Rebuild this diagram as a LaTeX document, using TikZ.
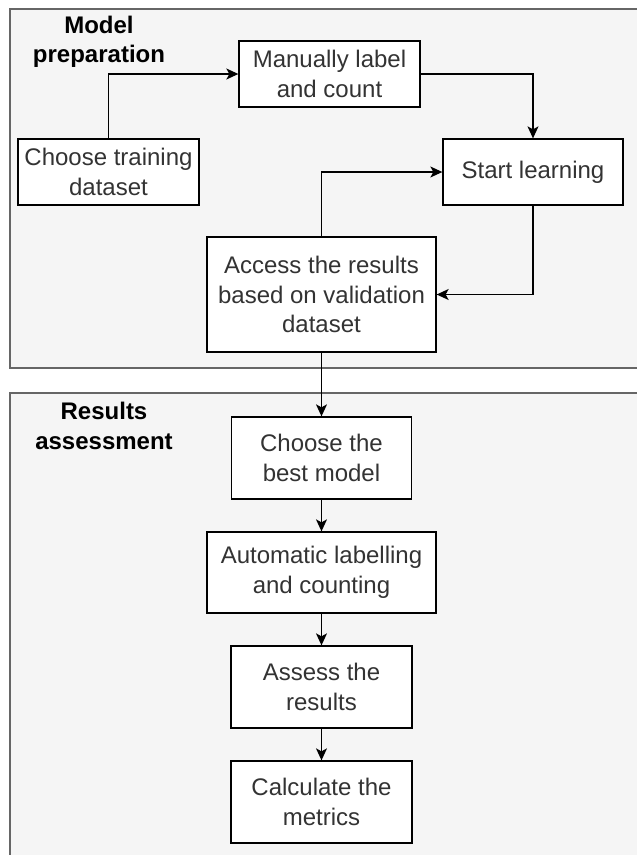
\documentclass[tikz,border=0pt]{standalone}
\usepackage{fontspec}
\setmainfont{Liberation Sans}
\usetikzlibrary{arrows.meta}
\definecolor{panelfill}{HTML}{F5F5F5}
\definecolor{panelline}{HTML}{666666}
\definecolor{txt}{HTML}{333333}
\begin{document}
\begin{tikzpicture}[x=1pt,y=-1pt,
  panel/.style={draw=panelline,fill=panelfill,line width=1.3pt},
  stepbox/.style={draw=black,fill=white,line width=1.3pt,align=center,
    text=txt,font=\fontsize{24}{29.5}\selectfont,inner sep=0pt},
  paneltitle/.style={align=center,font=\fontsize{24}{29.5}\selectfont\bfseries,text=black},
  conn/.style={draw=black,line width=1.3pt,-{Stealth[length=12pt,width=11pt,inset=3pt]}}]
\useasboundingbox (0,0) rectangle (637,855);
\fill[white] (0,0) rectangle (637,855);
% panels
\path[panel] (10,9) rectangle (660,368);
\path[panel] (10,393) rectangle (660,880);
\node[paneltitle] (t1) at (99,42) {Model\\preparation};
\node[paneltitle] (t2) at (104,426) {Results\\assessment};
% boxes
\node[stepbox,minimum width=181pt,minimum height=66pt] (manual) at (329.5,74) {Manually label\\and count};
\node[stepbox,minimum width=181pt,minimum height=66pt] (train) at (108.5,172) {Choose training\\dataset};
\node[stepbox,minimum width=180pt,minimum height=66pt] (start) at (533,172) {Start learning};
\node[stepbox,minimum width=229pt,minimum height=115pt] (access) at (321.5,294.5) {Access the results\\based on validation\\dataset};
\node[stepbox,minimum width=180pt,minimum height=82pt] (best) at (321.5,458) {Choose the\\best model};
\node[stepbox,minimum width=229pt,minimum height=81pt] (auto) at (321.5,572.5) {Automatic labelling\\and counting};
\node[stepbox,minimum width=181pt,minimum height=82pt] (assess) at (321.5,687) {Assess the\\results};
\node[stepbox,minimum width=181pt,minimum height=82pt] (calc) at (321.5,802) {Calculate the\\metrics};
% connectors
\draw[conn] (train.north) |- (manual.west);
\draw[conn] (manual.east) -| (start.north);
\draw[conn] (start.south) |- (access.east);
\draw[conn] (access.north) |- (start.west);
\draw[conn] (access.south) -- (best.north);
\draw[conn] (best.south) -- (auto.north);
\draw[conn] (auto.south) -- (assess.north);
\draw[conn] (assess.south) -- (calc.north);
\end{tikzpicture}
\end{document}
